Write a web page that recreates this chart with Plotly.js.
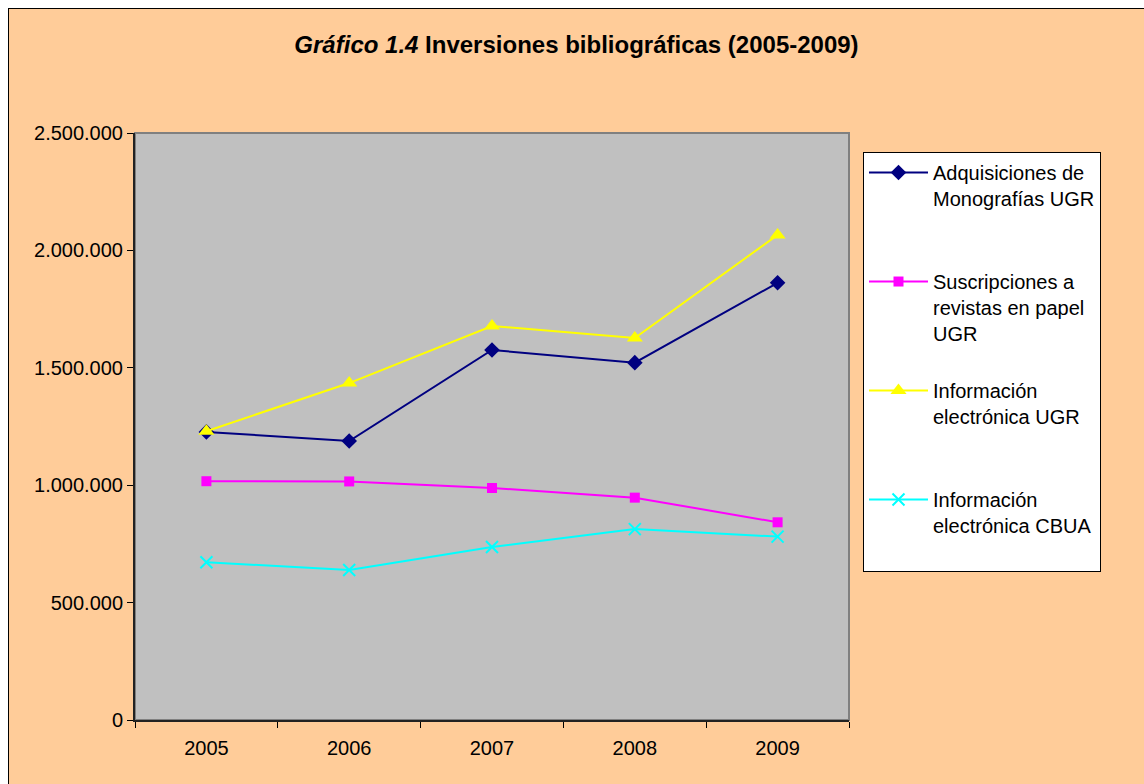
<!DOCTYPE html>
<html>
<head>
<meta charset="utf-8">
<script src="https://cdn.plot.ly/plotly-3.0.1.min.js"></script>
<style>
html,body{margin:0;padding:0;background:#ffffff;width:1144px;height:784px;overflow:hidden;}
#wrap{position:absolute;left:8px;top:8px;width:1136px;height:776px;border-left:1px solid #000;border-top:1px solid #000;background:#FFCC99;}
#chart{width:1135px;height:775px;}
</style>
</head>
<body>
<div id="wrap"><div id="chart"></div></div>
<script>
const years = ['2005','2006','2007','2008','2009'];
const seriesNames = [
  'Adquisiciones de<br>Monografías UGR<br>&nbsp;',
  'Suscripciones a<br>revistas en papel<br>UGR',
  'Información<br>electrónica UGR<br>&nbsp;',
  'Información<br>electrónica CBUA<br>&nbsp;'
];
const adquisiciones = [1227000, 1188000, 1576000, 1522000, 1862000];
const suscripciones = [1017000, 1016000, 988000, 947000, 842000];
const infoUGR = [1230000, 1435000, 1678000, 1627000, 2066000];
const infoCBUA = [672000, 639000, 737000, 813000, 781000];
const yTicks = [0, 500000, 1000000, 1500000, 2000000, 2500000];

const styles = [
  {color:'#000080', symbol:'diamond', size:12},
  {color:'#FF00FF', symbol:'square', size:10},
  {color:'#FFFF00', symbol:'triangle-up', size:14},
  {color:'#00FFFF', symbol:'x-thin-open', size:12}
];
const data = [adquisiciones, suscripciones, infoUGR, infoCBUA];

const traces = data.map((vals, i) => ({
  type:'scatter', mode:'lines+markers',
  x: years, y: vals, name: seriesNames[i],
  legendgroup: 'g'+i,
  line:{color:styles[i].color, width:2},
  marker:{color:styles[i].color, symbol:styles[i].symbol, size:styles[i].size,
          line:{color:styles[i].color, width: styles[i].symbol==='x-thin-open'?2:0}},
  hoverinfo:'skip'
}));

const layout = {
  width:1135, height:775,
  paper_bgcolor:'#FFCC99', plot_bgcolor:'#C0C0C0',
  font:{family:'Arial, "Liberation Sans", sans-serif', size:20, color:'#000'},
  separators:',.',
  margin:{l:126, r:295, t:124, b:64},
  title:{text:'<b><i>Gráfico 1.4</i> Inversiones bibliográficas (2005-2009)</b>',
         font:{size:24, color:'#000'}, x:0.5, xanchor:'center', y:0.9535, yanchor:'middle'},
  xaxis:{type:'category', range:[-0.5, 4.5], tickson:'boundaries', ticks:'outside', ticklen:6, tickcolor:'#000',
         showline:true, linecolor:'#222', linewidth:2, showgrid:false, zeroline:false,
         ticklabelstandoff:9, tickfont:{size:20}, fixedrange:true},
  yaxis:{range:[0,2500000], tickvals:yTicks, tickformat:',d', ticks:'outside', ticklen:6,
         tickcolor:'#000', showline:true, linecolor:'#222', linewidth:2, showgrid:false,
         zeroline:false, tickfont:{size:20}, fixedrange:true},
  shapes:[{type:'rect', xref:'paper', yref:'paper', x0:0, x1:1, y0:0, y1:1,
           line:{color:'#808080', width:2}, layer:'below'}],
  showlegend:true,
  legend:{x:1.0196, y:0.9676, xanchor:'left', yanchor:'top', bgcolor:'#FFFFFF',
          bordercolor:'#000', borderwidth:1, valign:'top', tracegroupgap:28,
          itemwidth:59, traceorder:'grouped', font:{size:20}},
  hovermode:false
};
Plotly.newPlot('chart', traces, layout, {displayModeBar:false, staticPlot:true});
</script>
</body>
</html>
